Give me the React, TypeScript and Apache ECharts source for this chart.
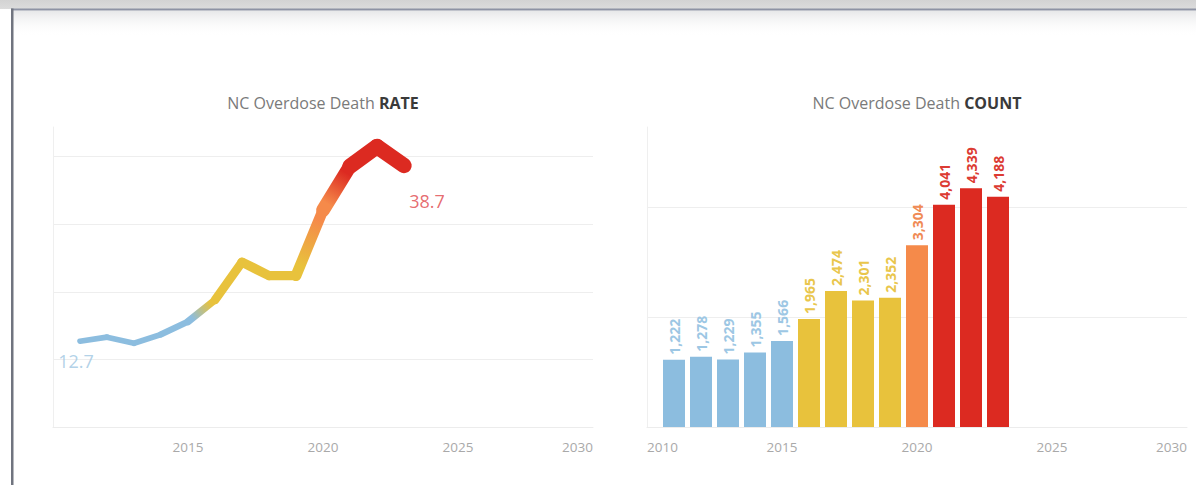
import React, { useEffect, useRef } from "react";
import * as echarts from "echarts";

const years = [2011, 2012, 2013, 2014, 2015, 2016, 2017, 2018, 2019, 2020, 2021, 2022, 2023];
const rateValues = [12.7, 13.3, 12.4, 13.7, 15.6, 18.8, 24.4, 22.4, 22.4, 32.1, 38.6, 41.5, 38.7];
const countValues = [1222, 1278, 1229, 1355, 1566, 1965, 2474, 2301, 2352, 3304, 4041, 4339, 4188];
const axisMinYear = 2010;
const axisMaxYear = 2030;
const rateTitle = { lead: "NC Overdose Death ", key: "RATE" };
const countTitle = { lead: "NC Overdose Death ", key: "COUNT" };

const FONT = "'Open Sans', 'Noto Sans', sans-serif";

function colorFor(y: number): string {
  if (y <= 2015) return "#8cbddf";
  if (y <= 2019) return "#e8c23c";
  if (y === 2020) return "#f58a4a";
  return "#dc2a21";
}
function labelColorFor(y: number): string {
  if (y <= 2015) return "#9dc7e4";
  if (y <= 2019) return "#e9c64c";
  if (y === 2020) return "#f08b55";
  return "#dc3b33";
}
function widthFor(v: number): number {
  return 1 + 0.36 * v;
}

export default function App() {
  const ref = useRef<HTMLDivElement>(null);
  useEffect(() => {
    if (!ref.current) return;
    const chart = echarts.init(ref.current, null, { renderer: "svg" });
    const W = 1196;
    const H = 485;
    const g0 = { left: 53, top: 127, width: 540, height: 300 };
    const g1 = { left: 647, top: 127, width: 540, height: 300 };

    const xAxisBase = (gi: number) => ({
      gridIndex: gi,
      type: "value",
      min: axisMinYear,
      max: axisMaxYear,
      interval: 5,
      axisLine: { show: true, lineStyle: { color: "#ececec", width: 1 } },
      axisTick: { show: false },
      splitLine: { show: false },
      axisLabel: {
        color: "#a9a9a9",
        fontSize: 13.5,
        fontFamily: FONT,
        margin: 13,
        formatter: (v: number) => String(v),
        showMinLabel: gi === 1,
        alignMinLabel: "left",
        alignMaxLabel: "right",
      },
    });
    const yAxisBase = (gi: number, max: number, interval: number) => ({
      gridIndex: gi,
      type: "value",
      min: 0,
      max,
      interval,
      axisLabel: { show: false },
      axisTick: { show: false },
      axisLine: { show: true, lineStyle: { color: "#efefef" } },
      splitLine: { show: true, showMaxLine: false, lineStyle: { color: "#eeeeee" } },
    });

    const titleText = (t: { lead: string; key: string }, x: number) => ({
      type: "text",
      x,
      y: 103,
      z: 10,
      style: {
        text: `{n|${t.lead}}{b|${t.key}}`,
        align: "center",
        verticalAlign: "middle",
        rich: {
          n: { fontSize: 16, fontFamily: FONT, fill: "#7a7a7a" },
          b: { fontSize: 16, fontFamily: FONT, fill: "#3a3a3a", fontWeight: "bold" },
        },
      },
    });

    const option: any = {
      animation: false,
      backgroundColor: "#ffffff",
      graphic: [
        {
          type: "rect",
          z: -10,
          shape: { x: 0, y: 0, width: W, height: 9 },
          style: {
            fill: new echarts.graphic.LinearGradient(0, 0, 0, 1, [
              { offset: 0, color: "#d3d3d3" },
              { offset: 1, color: "#dcdcdc" },
            ]),
          },
        },
        {
          type: "rect",
          z: -10,
          shape: { x: 13, y: 10.5, width: W - 13, height: 26 },
          style: {
            fill: new echarts.graphic.LinearGradient(0, 0, 0, 1, [
              { offset: 0, color: "#e6e7e8" },
              { offset: 1, color: "rgba(255,255,255,0)" },
            ]),
          },
        },
        {
          type: "rect",
          z: -9,
          shape: { x: 11, y: 8.5, width: W - 11, height: 2 },
          style: { fill: "#8e93a4" },
        },
        {
          type: "rect",
          z: -9,
          shape: { x: 11, y: 8.5, width: 2.5, height: H - 8.5 },
          style: { fill: "#70747f" },
        },
        titleText(rateTitle, g0.left + g0.width / 2),
        titleText(countTitle, g1.left + g1.width / 2),
      ],
      grid: [
        { ...g0, containLabel: false },
        { ...g1, containLabel: false },
      ],
      xAxis: [xAxisBase(0), xAxisBase(1)],
      yAxis: [yAxisBase(0, 44.4, 10), yAxisBase(1, 5455, 2000)],
      series: [
        {
          type: "custom",
          xAxisIndex: 0,
          yAxisIndex: 0,
          data: years.map((y, i) => [y, rateValues[i]]),
          encode: { x: 0, y: 1 },
          renderItem: (params: any, api: any) => {
            const i = params.dataIndex;
            if (i === 0) return { type: "group", children: [] };
            const p0 = api.coord([years[i - 1], rateValues[i - 1]]);
            const p1 = api.coord([years[i], rateValues[i]]);
            const c0 = colorFor(years[i - 1]);
            const c1 = colorFor(years[i]);
            const w = (widthFor(rateValues[i - 1]) + widthFor(rateValues[i])) / 2;
            return {
              type: "line",
              shape: { x1: p0[0], y1: p0[1], x2: p1[0], y2: p1[1] },
              style: {
                stroke: new echarts.graphic.LinearGradient(
                  p0[0], p0[1], p1[0], p1[1],
                  [
                    { offset: 0.15, color: c0 },
                    { offset: 0.85, color: c1 },
                  ],
                  true
                ),
                lineWidth: w,
                lineCap: "round",
                fill: null,
              },
            };
          },
        },
        {
          type: "scatter",
          xAxisIndex: 0,
          yAxisIndex: 0,
          symbolSize: 0,
          data: [
            {
              value: [years[0], rateValues[0]],
              label: { color: "#9ec6e2", offset: [-4, 6] },
            },
            {
              value: [years[years.length - 1], rateValues[rateValues.length - 1]],
              label: { color: "#e0464b", offset: [23, 21] },
            },
          ],
          label: {
            show: true,
            position: "bottom",
            fontSize: 18,
            fontFamily: FONT,
            formatter: (p: any) => Number(p.value[1]).toFixed(1),
          },
          z: 5,
        },
        {
          type: "bar",
          xAxisIndex: 1,
          yAxisIndex: 1,
          barWidth: 22,
          data: years.map((y, i) => ({
            value: [y, countValues[i]],
            itemStyle: { color: colorFor(y) },
            label: { color: labelColorFor(y) },
          })),
          label: {
            show: true,
            position: "top",
            rotate: 90,
            align: "left",
            verticalAlign: "middle",
            distance: 5,
            fontSize: 14,
            fontWeight: "bold",
            fontFamily: FONT,
            formatter: (p: any) => Number(p.value[1]).toLocaleString("en-US"),
          },
        },
      ],
    };
    chart.setOption(option);
    return () => chart.dispose();
  }, []);
  return (
    <div
      ref={ref}
      style={{ position: "absolute", left: 0, top: 0, width: 1196, height: 485 }}
    />
  );
}
